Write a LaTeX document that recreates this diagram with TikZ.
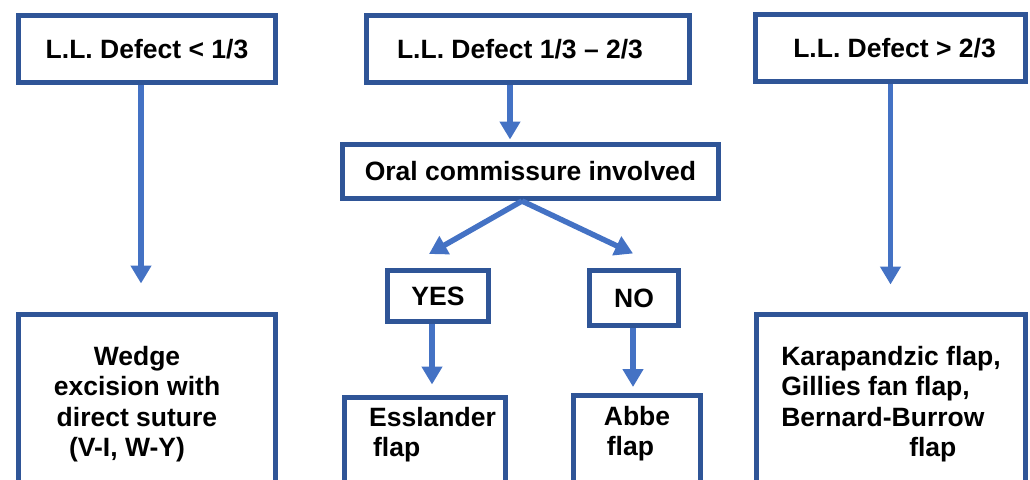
\documentclass[tikz,border=0pt]{standalone}
\usepackage{fontspec}
\setmainfont{Liberation Sans}
\usetikzlibrary{arrows.meta}
\definecolor{boxblue}{HTML}{2F5597}
\definecolor{arrowblue}{HTML}{4472C4}

\begin{document}
\begin{tikzpicture}[
      x=1pt, y=-1pt,
      every node/.style={font=\fontsize{26.5}{30.5}\selectfont\bfseries},
      block/.style={draw=boxblue, line width=5pt, inner sep=0pt},
      link/.style={draw=arrowblue, line width=5.5pt, -{Triangle[length=18pt,width=20pt]}}
    ]
    \useasboundingbox (0,0) rectangle (1030,479);
    \clip (0,0) rectangle (1030,479);

    % defect size
    \node[block, minimum width=257pt, minimum height=67pt] (small) at (147,49) {L.L. Defect < 1/3};
    \node[block, minimum width=323pt, minimum height=67pt] (mid) at (528,49) {L.L. Defect 1/3 -- 2/3\hspace*{16pt}};
    \node[block, minimum width=270pt, minimum height=67pt] (large) at (890.5,48) {\hspace*{8pt}L.L. Defect > 2/3};

    \node[block, minimum width=376pt, minimum height=54pt] (ocom) at (530.5,171.5) {Oral commissure involved};
    \node[block, minimum width=101pt, minimum height=51pt] (yes) at (438,296) {YES};
    \node[block, minimum width=89pt, minimum height=55pt] (no) at (634,298) {NO};

    % bottom boxes run past the lower edge
    \node[block, anchor=north, align=center, minimum width=257pt, minimum height=180pt] (wedge) at (147,311.5)
        {Wedge\rule{20pt}{0pt}\\excision with\rule{20pt}{0pt}\\direct suture\rule{20pt}{0pt}\\(V-I, W-Y)\rule{40pt}{0pt}};
    \node[block, anchor=north, align=left, text depth=20pt, minimum width=161pt, minimum height=90pt] (essl) at (424.5,394.5)
        {\hspace*{16pt}Esslander\\\hspace*{20pt}flap};
    \node[block, anchor=north, align=left, text depth=20pt, minimum width=127pt, minimum height=92pt] (abbe) at (637,392.5)
        {Abbe\\\hspace*{3pt}flap};
    \node[block, anchor=north, align=left, minimum width=269pt, minimum height=180pt] (flaps) at (891,311.5)
        {Karapandzic flap,\\Gillies fan flap,\\Bernard-Burrow\\\hspace*{128pt}flap};

    \draw[link, shorten >=28pt] ([xshift=-6pt]small.south) -- ([xshift=-6pt]small.south |- wedge.north);
    \draw[link, shorten >=2.5pt] ([xshift=-18pt]mid.south) -- ([xshift=-18pt]mid.south |- ocom.north);
    \draw[link, shorten >=27pt] (large.south) -- (large.south |- flaps.north);

    \draw[link] ([xshift=-8.5pt]ocom.south) -- ([xshift=-9pt,yshift=14pt]yes.north);
    \draw[link] ([xshift=-8.5pt]ocom.south) -- ([xshift=-1pt,yshift=14.5pt]no.north);

    \draw[link, shorten >=10pt] ([xshift=-6pt]yes.south) -- ([xshift=-6pt]yes.south |- essl.north);
    \draw[link, shorten >=5.5pt] ([xshift=-1pt]no.south) -- ([xshift=-1pt]no.south |- abbe.north);
\end{tikzpicture}
\end{document}
